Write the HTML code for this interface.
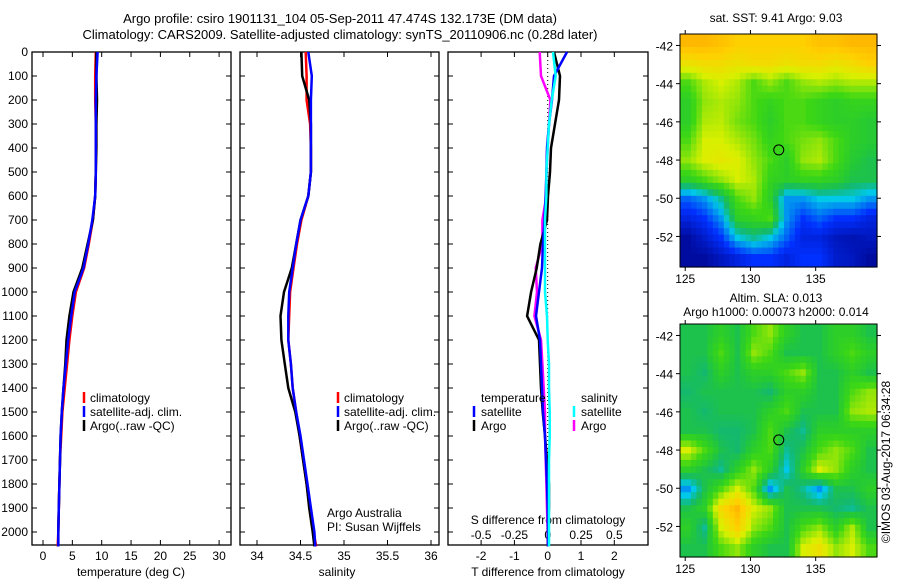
<!DOCTYPE html>
<html><head><meta charset="utf-8">
<style>
body{margin:0;background:#fff;}
svg{display:block;font-family:"Liberation Sans",sans-serif;font-size:12px;}
</style></head>
<body>
<svg id="c" width="900" height="580" xmlns="http://www.w3.org/2000/svg">
<g id="g"></g>
</svg>
<script>
// ---- data ----
const depths=[0,100,200,300,400,500,600,700,800,900,1000,1100,1200,1300,1400,1500,1600,1700,1800,1900,2000,2060];
const tempClim=[9.0,8.9,8.9,9.0,9.0,9.0,8.9,8.5,7.8,7.0,5.6,5.0,4.5,4.1,3.7,3.3,3.1,2.9,2.8,2.7,2.6,2.5];
const tempSat=[9.3,9.1,9.0,9.0,9.0,9.0,8.9,8.4,7.7,6.9,5.4,4.8,4.3,3.9,3.5,3.2,3.0,2.9,2.8,2.7,2.6,2.6];
const tempArgo=[9.1,9.1,9.2,9.1,9.1,9.0,8.9,8.5,7.6,6.7,5.2,4.5,4.0,3.8,3.5,3.2,3.0,2.9,2.8,2.7,2.6,2.6];
const salClim=[34.56,34.57,34.57,34.61,34.62,34.62,34.59,34.51,34.46,34.42,34.38,34.37,34.36,34.39,34.41,34.45,34.49,34.53,34.57,34.61,34.65,34.68];
const salSat=[34.59,34.63,34.62,34.62,34.62,34.62,34.59,34.50,34.45,34.41,34.37,34.36,34.36,34.39,34.41,34.45,34.50,34.54,34.58,34.62,34.66,34.67];
const salArgo=[34.51,34.52,34.60,34.62,34.62,34.62,34.59,34.50,34.45,34.40,34.31,34.27,34.28,34.32,34.36,34.44,34.49,34.53,34.57,34.60,34.64,34.66];
const dTsat=[0.58,0.19,0.13,0.04,-0.02,-0.04,-0.06,-0.1,-0.14,-0.17,-0.26,-0.35,-0.23,-0.2,-0.17,-0.14,-0.08,-0.05,-0.02,0,0.01,0.01];
const dTargo=[0.19,0.37,0.34,0.22,0.1,0.07,0.01,-0.02,-0.22,-0.33,-0.5,-0.62,-0.26,-0.23,-0.2,-0.15,-0.08,-0.02,0.04,0.04,0.01,0.01];
const dSargo=[-0.06,-0.05,0.02,0.01,0,-0.01,-0.01,-0.04,-0.04,-0.09,-0.08,-0.1,-0.05,-0.04,-0.03,-0.02,-0.02,-0.015,-0.01,-0.005,0,0];
const dSsat=[0.04,0.06,0.03,0.01,0,-0.01,-0.01,-0.02,-0.02,-0.02,-0.02,-0.005,0,0.01,0.01,0.015,0.015,0.01,0.01,0.01,0.01,0.01];
const depthTicks=[0,100,200,300,400,500,600,700,800,900,1000,1100,1200,1300,1400,1500,1600,1700,1800,1900,2000];
const tempTicks=[0,5,10,15,20,25,30];
const salTicks=[34,34.5,35,35.5,36];
const salTickLabels=["34","34.5","35","35.5","36"];
const dTTicks=[-2,-1,0,1,2];
const dSTicks=[-0.5,-0.25,0,0.25,0.5];
const dSTickLabels=["-0.5","-0.25","0","0.25","0.5"];
const lonTicks=[125,130,135];
const latTicks1=[-42,-44,-46,-48,-50,-52];
const sst=[
[.8,.8,.78,.75,.75,.75,.75,.75,.78,.78,.8,.8],
[.7,.72,.72,.7,.72,.72,.7,.72,.72,.7,.72,.75],
[.55,.62,.65,.62,.55,.6,.55,.6,.62,.6,.62,.62],
[.5,.6,.62,.6,.55,.52,.55,.55,.52,.5,.52,.52],
[.5,.62,.63,.58,.55,.5,.55,.55,.52,.5,.5,.48],
[.55,.65,.65,.62,.58,.52,.55,.58,.6,.55,.5,.48],
[.6,.66,.68,.66,.6,.55,.5,.6,.62,.55,.48,.45],
[.5,.55,.6,.65,.62,.52,.5,.52,.52,.5,.45,.45],
[.25,.3,.4,.55,.6,.5,.3,.3,.35,.35,.35,.3],
[.15,.2,.3,.5,.52,.55,.3,.2,.25,.2,.2,.15],
[.05,.12,.2,.35,.4,.35,.25,.15,.15,.1,.08,.1],
[.05,.05,.1,.15,.2,.2,.15,.2,.2,.12,.1,.05]];
const sla=[
[.45,.45,.5,.45,.55,.6,.5,.45,.45,.5,.5,.45],
[.45,.45,.55,.45,.6,.55,.45,.45,.45,.5,.55,.5],
[.45,.42,.5,.45,.5,.5,.55,.6,.45,.45,.5,.45],
[.42,.45,.45,.45,.45,.42,.5,.5,.45,.45,.55,.6],
[.45,.42,.45,.45,.45,.5,.55,.45,.45,.45,.6,.62],
[.45,.45,.42,.42,.45,.55,.45,.4,.5,.5,.5,.5],
[.65,.55,.45,.42,.5,.55,.4,.45,.55,.6,.55,.45],
[.5,.45,.4,.5,.6,.5,.35,.5,.65,.6,.5,.45],
[.3,.45,.55,.65,.55,.3,.45,.4,.3,.45,.45,.5],
[.45,.5,.72,.8,.65,.6,.45,.45,.45,.42,.4,.45],
[.5,.4,.65,.75,.6,.55,.45,.55,.6,.5,.62,.45],
[.45,.45,.55,.6,.5,.45,.45,.65,.7,.6,.65,.55]];
const argoLon=132.17, argoLat=-47.47;

// ---- helpers ----
const NS="http://www.w3.org/2000/svg";
const G=document.getElementById('g');
function el(t,a,txt){const e=document.createElementNS(NS,t);for(const k in a)e.setAttribute(k,a[k]);if(txt!==undefined)e.textContent=txt;G.appendChild(e);return e;}
function txt(x,y,s,anchor,name){const e=el('text',{x:x,y:y,'text-anchor':anchor||'start',fill:'#000'},s);

return e;}
const Y=d=>52+d*0.24;
function frame(x0,x1,name){const r=el('rect',{x:x0,y:52,width:x1-x0,height:493,fill:'none',stroke:'#000','stroke-width':1.3});

}
function xticks(X,ticks,labels,yl,name,top){ticks.forEach((t,i)=>{const x=X(t);
el('line',{x1:x,x2:x,y1:545,y2:540,stroke:'#000'});
if(top)el('line',{x1:x,x2:x,y1:52,y2:57,stroke:'#000'});
if(labels)txt(x,yl,labels[i],'middle',name);});}
function line(X,vals,col,name,w){const p=vals.map((v,i)=>X(v).toFixed(1)+','+Y(depths[i]).toFixed(1)).join(' ');
const e=el('polyline',{points:p,fill:'none',stroke:col,'stroke-width':w||2.5});

}
function legendMark(x,y,col){el('line',{x1:x,x2:x,y1:y-10,y2:y+1,stroke:col,'stroke-width':2.5});}

// titles
txt(340,23,'Argo profile: csiro 1901131_104 05-Sep-2011 47.474S 132.173E (DM data)','middle','title-line-1').setAttribute('font-size','13');
txt(340,39,'Climatology: CARS2009. Satellite-adjusted climatology: synTS_20110906.nc (0.28d later)','middle','title-line-2').setAttribute('font-size','13');

// panel 1 temperature
const XT=v=>43+v*5.87;
frame(32,231,'temperature-panel');
depthTicks.forEach(d=>{const y=Y(d);el('line',{x1:32,x2:37,y1:y,y2:y,stroke:'#000'});el('line',{x1:226,x2:231,y1:y,y2:y,stroke:'#000'});
el('line',{x1:240,x2:245,y1:y,y2:y,stroke:'#000'});el('line',{x1:434,x2:439,y1:y,y2:y,stroke:'#000'});
el('line',{x1:448,x2:453,y1:y,y2:y,stroke:'#000'});el('line',{x1:643,x2:648,y1:y,y2:y,stroke:'#000'});
txt(28,y+4,String(d),'end','depth-tick-label');});
xticks(XT,tempTicks,tempTicks.map(String),560,'temp-tick-label',true);
txt(131,576,'temperature (deg C)','middle','temperature-axis-title');
line(XT,tempClim,'#f00','temp-climatology');
line(XT,tempArgo,'#000','temp-argo');
line(XT,tempSat,'#00f','temp-satellite');
legendMark(84,402,'#f00');txt(90,402,'climatology','start','legend-climatology');
legendMark(84,416,'#00f');txt(90,416,'satellite-adj. clim.','start','legend-satellite');
legendMark(84,430,'#000');txt(90,430,'Argo(..raw -QC)','start','legend-argo');

// panel 2 salinity
const XS=v=>257+(v-34)*87;
frame(240,439,'salinity-panel');
xticks(XS,salTicks,salTickLabels,560,'salinity-tick-label',true);
txt(337,576,'salinity','middle','salinity-axis-title');
line(XS,salClim,'#f00','sal-climatology');
line(XS,salArgo,'#000','sal-argo');
line(XS,salSat,'#00f','sal-satellite');
legendMark(338,402,'#f00');txt(344,402,'climatology','start','legend-climatology-2');
legendMark(338,416,'#00f');txt(344,416,'satellite-adj. clim.','start','legend-satellite-2');
legendMark(338,430,'#000');txt(344,430,'Argo(..raw -QC)','start','legend-argo-2');
txt(327,517,'Argo Australia','start','credit-argo-australia');
txt(327,531,'PI: Susan Wijffels','start','credit-pi');

// panel 3 differences
const XD=v=>547.7+v*33.3, XDS=v=>547.7+v*133.2;
frame(448,648,'difference-panel');
el('line',{x1:XD(0),x2:XD(0),y1:52,y2:545,stroke:'#000','stroke-dasharray':'1,3'});
xticks(XD,dTTicks,dTTicks.map(String),560,'dT-tick-label',true);
dSTicks.forEach((t,i)=>txt(XDS(t),539,dSTickLabels[i],'middle','dS-tick-label'));
txt(548,524,'S difference from climatology','middle','dS-axis-title');
txt(548,576,'T difference from climatology','middle','dT-axis-title');
line(XDS,dSargo,'#f0f','dS-argo');
line(XD,dTargo,'#000','dT-argo');
line(XD,dTsat,'#00f','dT-satellite');
line(XDS,dSsat,'#0ff','dS-satellite');
txt(481,402,'temperature','start','legend-temperature-heading');
txt(581,402,'salinity','start','legend-salinity-heading');
legendMark(474,416,'#00f');txt(481,416,'satellite','start','legend-t-satellite');
legendMark(474,430,'#000');txt(481,430,'Argo','start','legend-t-argo');
legendMark(574,416,'#0ff');txt(581,416,'satellite','start','legend-s-satellite');
legendMark(574,430,'#f0f');txt(581,430,'Argo','start','legend-s-argo');

// colormap
const stops=[[0,[0,0,128]],[0.2,[0,48,255]],[0.35,[0,200,232]],[0.42,[20,185,110]],[0.47,[35,200,55]],[0.54,[60,215,20]],[0.65,[216,240,0]],[0.75,[255,208,0]],[0.85,[255,160,0]]];
function cmap(v){for(let i=1;i<stops.length;i++){if(v<=stops[i][0]){const a=stops[i-1],b=stops[i],f=(v-a[0])/(b[0]-a[0]);
return 'rgb('+a[1].map((c,k)=>Math.round(c+(b[1][k]-c)*f)).join(',')+')';}}return 'rgb(255,160,0)';}
function sample(grid,fy,fx){const R=grid.length-1,C=grid[0].length-1;
fy=Math.max(0,Math.min(R,fy));fx=Math.max(0,Math.min(C,fx));
const i=Math.min(R-1,Math.floor(fy)),j=Math.min(C-1,Math.floor(fx)),a=fy-i,b=fx-j;
return grid[i][j]*(1-a)*(1-b)+grid[i][j+1]*(1-a)*b+grid[i+1][j]*a*(1-b)+grid[i+1][j+1]*a*b;}
function map(y0,y1,grid,name){
 const x0=680,x1=877,lonA=124.6,lonB=139.7,latA=-41.4,latB=-53.6;
 const LX=l=>x0+(l-lonA)/(lonB-lonA)*(x1-x0), LY=l=>y0+(l-latA)/(latB-latA)*(y1-y0);
 const rows=grid.length,cols=grid[0].length,S=3,cw=(x1-x0)/(cols*S),ch=(y1-y0)/(rows*S);
 for(let i=0;i<rows*S;i++)for(let j=0;j<cols*S;j++){
  const v=sample(grid,(i+0.5)/S-0.5,(j+0.5)/S-0.5);
  const c=el('rect',{x:(x0+j*cw).toFixed(2),y:(y0+i*ch).toFixed(2),width:(cw+0.6).toFixed(2),height:(ch+0.6).toFixed(2),fill:cmap(v)});
  
  }
 const f=el('rect',{x:x0,y:y0,width:x1-x0,height:y1-y0,fill:'none',stroke:'#000'});
 
 
 lonTicks.forEach(l=>{const x=LX(l);el('line',{x1:x,x2:x,y1:y1,y2:y1+4,stroke:'#000'});el('line',{x1:x,x2:x,y1:y0,y2:y0-4,stroke:'#000'});txt(x,y1+16,String(l),'middle',name+'-lon-label');});
 latTicks1.forEach(l=>{const y=LY(l);el('line',{x1:x0,x2:x0-4,y1:y,y2:y,stroke:'#000'});el('line',{x1:x1,x2:x1+4,y1:y,y2:y,stroke:'#000'});txt(673,y+5,String(l),'end',name+'-lat-label');});
 const m=el('circle',{cx:LX(argoLon),cy:LY(argoLat),r:5,fill:'none',stroke:'#000'});
 
 
}
txt(776,22,'sat. SST: 9.41  Argo: 9.03','middle','sst-map-title');
map(34,267,sst,'sst-map');
txt(776,302,'Altim. SLA: 0.013','middle','sla-map-title');
txt(776,316,'Argo h1000: 0.00073 h2000: 0.014','middle','sla-map-subtitle');
map(324,557,sla,'sla-map');
const r=txt(0,0,'©IMOS 03-Aug-2017 06:34:28','middle','timestamp');
r.setAttribute('transform','translate(890,462) rotate(-90)');
</script>
</body></html>
